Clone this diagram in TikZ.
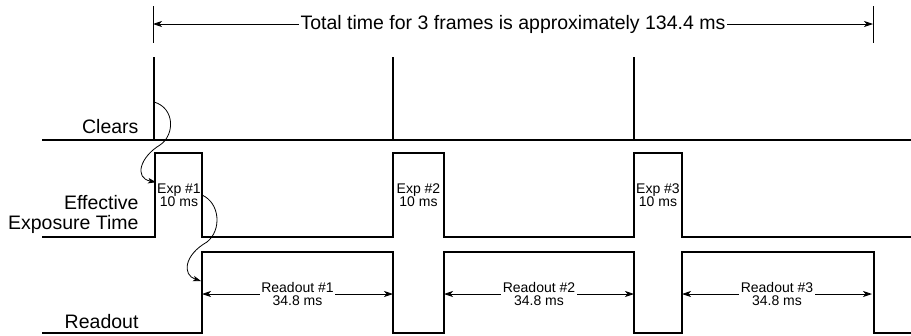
\documentclass[tikz,border=0pt]{standalone}
\usepackage{fontspec}
\setmainfont{Liberation Sans}
\usetikzlibrary{arrows.meta}

\tikzset{
  sig/.style={line width=1.6pt, line join=miter},
  tick/.style={line width=0.8pt},
  dim/.style={line width=0.8pt, {Stealth[length=9pt,width=6pt,inset=2.5pt]}-{Stealth[length=9pt,width=6pt,inset=2.5pt]}},
  hook/.style={line width=0.8pt, -{Stealth[length=8pt,width=5.5pt,inset=2pt]}},
  big/.style={font=\fontsize{19.5}{20}\selectfont},
  small/.style={font=\fontsize{14}{13.5}\selectfont, align=center, inner sep=1pt},
  gap/.style={fill=white, inner sep=1.5pt}
}

\begin{document}
\begin{tikzpicture}[x=1pt, y=-1pt]
\useasboundingbox (0,0) rectangle (911,335);

% total time
\draw[tick] (153,6) -- (153,43);
\draw[tick] (873,6) -- (873,43);
\coordinate (t0) at (153,24);
\coordinate (t1) at (873,24);
\draw[dim] (t0) -- node[big, gap] (total) {Total time for 3 frames is approximately 134.4 ms} (t1);

% clears
\draw[sig] (42,140) -- (911,140);
\draw[line width=2.2pt] (154,140) -- (154,57);
\draw[sig] (393,140) -- (393,57);
\draw[sig] (634,140) -- (634,57);

% exposure
\draw[sig] (42,237) -| (155,153) -| (202,237) -| (393,153) -| (444,237) -| (634,153) -| (682,237) -- (911,237);
\node[small] (exp1) at (179,195) {Exp \#1\\10 ms};
\node[small] (exp2) at (418.5,195) {Exp \#2\\10 ms};
\node[small] (exp3) at (658,195) {Exp \#3\\10 ms};

% readout
\draw[sig] (42,333) -| (202,252) -| (393,333) -| (444,252) -| (634,333) -| (682,252) -| (874,333) -- (911,333);
\coordinate (r1a) at (202,294);
\coordinate (r1b) at (393,294);
\coordinate (r2a) at (444,294);
\coordinate (r2b) at (634,294);
\coordinate (r3a) at (682,294);
\coordinate (r3b) at (872,294);
\draw[dim] (r1a) -- node[small, gap] (ro1) {Readout \#1\\34.8 ms} (r1b);
\draw[dim] (r2a) -- node[small, gap] (ro2) {Readout \#2\\34.8 ms} (r2b);
\draw[dim] (r3a) -- node[small, gap] (ro3) {Readout \#3\\34.8 ms} (r3b);

% row labels
\node[big, anchor=base east] (clears) at (142,133) {Clears};
\node[big, anchor=east, align=right] (eff) at (142,214) {Effective\\Exposure Time};
\node[big, anchor=base east] (rdlbl) at (142,328) {Readout};

% clear -> exposure -> readout
\coordinate (c1) at (154,102);
\coordinate (rise1) at (201,281);
\draw[hook] (c1) .. controls (175,108) and (175,135) .. (160,145) .. controls (140,157) and (134,178) .. (exp1.north west);
\draw[hook] (exp1.east) .. controls (220,203) and (222,230) .. (207,242) .. controls (184,255) and (182,275) .. (rise1);
\end{tikzpicture}
\end{document}
